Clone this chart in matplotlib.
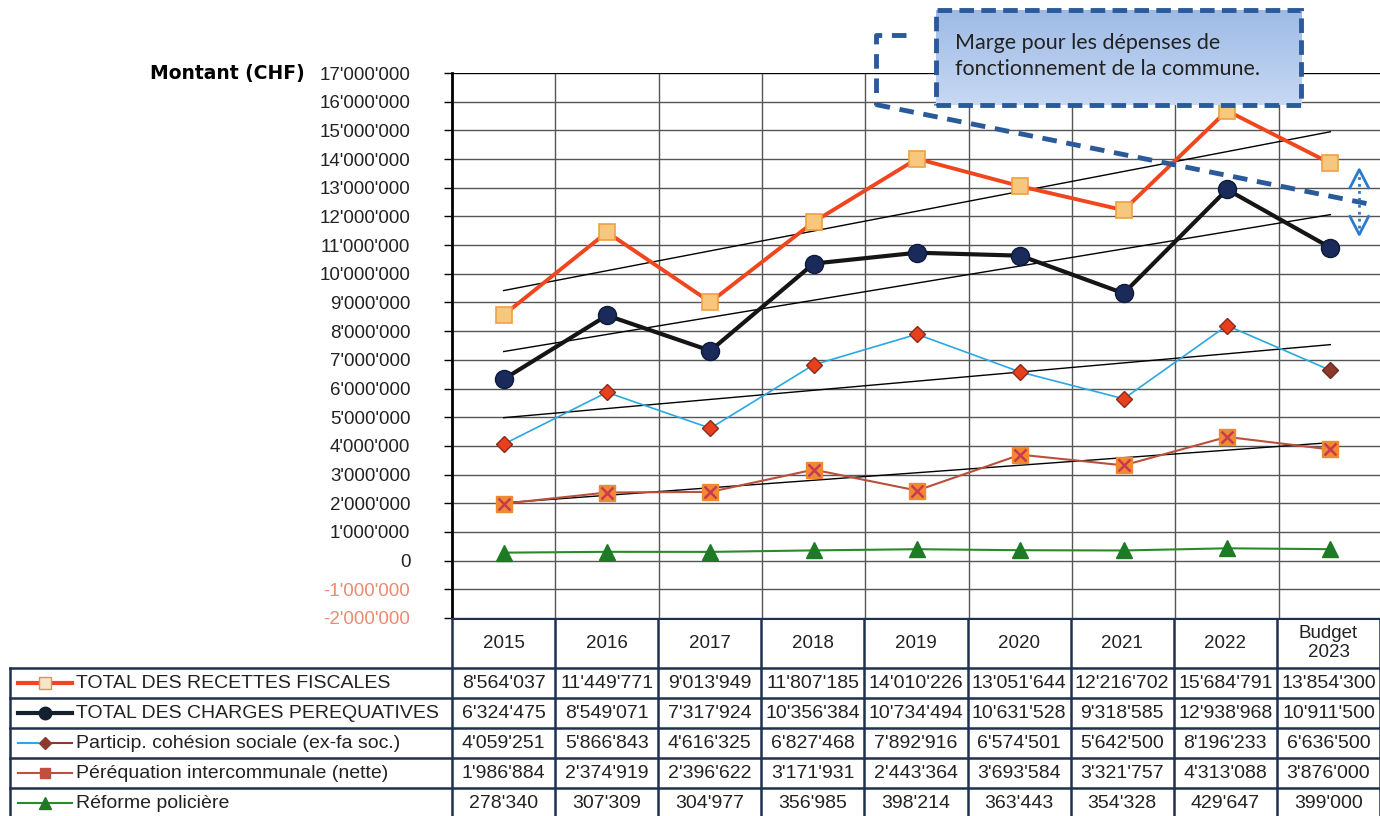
import matplotlib.pyplot as plt
import matplotlib.patches as mpatches
import numpy as np

plt.rcParams['font.family'] = ['Liberation Sans', 'DejaVu Sans']

W, H = 1380, 816

years = ["2015", "2016", "2017", "2018", "2019", "2020", "2021", "2022", "Budget\n2023"]
recettes = [8564037, 11449771, 9013949, 11807185, 14010226, 13051644, 12216702, 15684791, 13854300]
charges = [6324475, 8549071, 7317924, 10356384, 10734494, 10631528, 9318585, 12938968, 10911500]
cohesion = [4059251, 5866843, 4616325, 6827468, 7892916, 6574501, 5642500, 8196233, 6636500]
perequation = [1986884, 2374919, 2396622, 3171931, 2443364, 3693584, 3321757, 4313088, 3876000]
police = [278340, 307309, 304977, 356985, 398214, 363443, 354328, 429647, 399000]

labels = ["TOTAL DES RECETTES FISCALES", "TOTAL DES CHARGES PEREQUATIVES",
          "Particip. cohésion sociale (ex-fa soc.)", "Péréquation intercommunale (nette)",
          "Réforme policière"]
note = "Marge pour les dépenses de\nfonctionnement de la commune."


def fmt(v):
    return f"{v:,}".replace(",", "'")


fig = plt.figure(figsize=(W / 100, H / 100), dpi=100)
ax = fig.add_axes([452 / W, 1 - 618 / H, (1382 - 452) / W, (618 - 73) / H])

x = np.arange(len(years)) + 0.5

# grid
for yv in np.arange(-2e6, 17.5e6, 1e6):
    ax.axhline(yv, color='#555555', lw=1, zorder=0)
for xv in range(1, 9):
    ax.axvline(xv, color='#555555', lw=1, zorder=0)
ax.axhline(17e6, color='black', lw=1.5, zorder=0)

# trend lines
for s in [recettes, charges, cohesion, perequation]:
    k, b = np.polyfit(x, s, 1)
    ax.plot(x, k * x + b, color='black', lw=1, zorder=3)

ax.plot(x, recettes, color='#f0461e', lw=2.8, marker='s', ms=12,
        mfc='#f8c77e', mec='#f0a040', mew=1.2, zorder=5)
ax.plot(x, charges, color='#151515', lw=3, marker='o', ms=13,
        mfc='#1a2a5a', mec='#0e1a3a', zorder=5)
ax.plot(x, cohesion, color='#2aa8e2', lw=1.2, zorder=4)
ax.plot(x[:-1], cohesion[:-1], ls='none', marker='D', ms=8,
        mfc='#e8401c', mec='#8a2a1a', zorder=5)
ax.plot(x[-1:], cohesion[-1:], ls='none', marker='D', ms=8,
        mfc='#8b3a2c', mec='#6a2a1a', zorder=5)
ax.plot(x, perequation, color='#b8503c', lw=1.5, marker='s', ms=11,
        mfc='#f08a30', mec='#f08a30', zorder=5)
ax.plot(x, perequation, ls='none', marker='x', ms=9, mew=1.8, color='#c83a50', zorder=6)
ax.plot(x, police, color='#2a8a2a', lw=1.5, marker='^', ms=12,
        mfc='#1f7a25', mec='#1f7a25', zorder=5)

# annotation: gradient box, bracket and double arrow
blue = '#2a5a9a'
ax.plot([4.39, 4.10, 4.10], [18.34e6, 18.34e6, 15.9e6], color=blue, lw=3.5,
        ls=(0, (3, 2)), clip_on=False, zorder=7)
ax.plot([4.10, 8.85], [15.9e6, 12.45e6], color=blue, lw=3.5,
        ls=(0, (3, 2)), clip_on=False, zorder=7)
grad = np.linspace(0, 1, 64).reshape(-1, 1)
top_c = np.array([0.62, 0.73, 0.90])
bot_c = np.array([0.78, 0.85, 0.95])
img = top_c + (bot_c - top_c) * grad[:, :, None]
ax.imshow(img, extent=(4.68, 8.22, 15.9e6, 19.2e6), origin='upper',
          aspect='auto', zorder=8, clip_on=False)
box = mpatches.Rectangle((4.68, 15.9e6), 8.22 - 4.68, 19.2e6 - 15.9e6,
                         facecolor='none', edgecolor=blue, lw=3.5,
                         ls=(0, (3, 1.5)), clip_on=False, zorder=8.5)
ax.add_patch(box)
ax.text(4.68 + 0.19, 17.6e6, note, fontsize=15.5, family=['Lato', 'DejaVu Sans'],
        color='#222222', va='center', ha='left', linespacing=1.4, zorder=9,
        clip_on=False)
arr_c = '#2a7ad0'
ax.plot([8.78, 8.78], [11.6e6, 13.4e6], color=arr_c, lw=2, ls=(0, (1, 1.5)),
        clip_on=False, zorder=9)
ax.plot([8.69, 8.78, 8.87], [13.0e6, 13.63e6, 13.0e6], color=arr_c, lw=2,
        clip_on=False, zorder=9)
ax.plot([8.69, 8.78, 8.87], [12.0e6, 11.37e6, 12.0e6], color=arr_c, lw=2,
        clip_on=False, zorder=9)

ax.set_xlim(0, 9)
ax.set_ylim(-2e6, 17e6)

# axes styling
yt = np.arange(-2e6, 17.5e6, 1e6)
ax.set_yticks(yt)
ax.set_yticklabels([fmt(int(v)) for v in yt], fontsize=13.5)
for lab, v in zip(ax.get_yticklabels(), yt):
    lab.set_color('#ec8a72' if v < 0 else '#222222')
ax.tick_params(axis='y', length=6, width=1, pad=24)
ax.set_xticks([])
for sp in ['top', 'right', 'bottom']:
    ax.spines[sp].set_visible(False)
ax.spines['left'].set_linewidth(2)

fig.text(150 / W, 1 - 73 / H, "Montant (CHF)", fontsize=13.5, fontweight='bold',
         family=['DejaVu Sans'], ha='left', va='center')

# data table
tax = fig.add_axes([0, 0, 1, 198 / H])
tax.set_xlim(0, W)
tax.set_ylim(198, 0)
tax.axis('off')
edges = [10] + list(452 + np.arange(10) * (928 / 9))
rows = [0, 50, 80, 110, 140, 170, 200]
navy = '#1f3050'
for xe in edges[1:]:
    tax.plot([xe, xe], [0, 200], color=navy, lw=1.8)
tax.plot([10, 10], [50, 200], color=navy, lw=1.8)
tax.plot([452, W], [0, 0], color=navy, lw=2.2)
for r in rows[1:]:
    tax.plot([10, W], [r, r], color=navy, lw=1.8)

for i, yl in enumerate(years):
    cx = (edges[i + 1] + edges[i + 2]) / 2
    tax.text(cx, 25, yl, ha='center', va='center', fontsize=13.5,
             color='#222222', linespacing=1.2)

series = [recettes, charges, cohesion, perequation, police]
for r, (s, lab) in enumerate(zip(series, labels)):
    cy = (rows[r + 1] + rows[r + 2]) / 2
    for i, v in enumerate(s):
        cx = (edges[i + 1] + edges[i + 2]) / 2
        tax.text(cx, cy + 1, fmt(v), ha='center', va='center', fontsize=14,
                 color='#222222')
    tax.text(76, cy + 1, lab, ha='left', va='center', fontsize=14,
             color='#222222')

# legend samples
tax.plot([18, 72], [65, 65], color='#f0461e', lw=3)
tax.plot([45], [65], marker='s', ms=8, mfc='#f3e7c8', mec='#f08a50')
tax.plot([18, 72], [95, 95], color='#15202e', lw=3)
tax.plot([45], [95], marker='o', ms=9, color='#15202e')
tax.plot([18, 38], [125, 125], color='#2aa8e2', lw=1.5)
tax.plot([45, 72], [125, 125], color='#8b3a2c', lw=1.5)
tax.plot([45], [125], marker='D', ms=6, color='#8b3a2c')
tax.plot([18, 72], [155, 155], color='#c0503c', lw=1.5)
tax.plot([45], [155], marker='s', ms=7, color='#c0503c')
tax.plot([18, 72], [185, 185], color='#2a8a2a', lw=1.5)
tax.plot([45], [185], marker='^', ms=8, color='#1f7a25')

fig.savefig("out.png", dpi=100)
